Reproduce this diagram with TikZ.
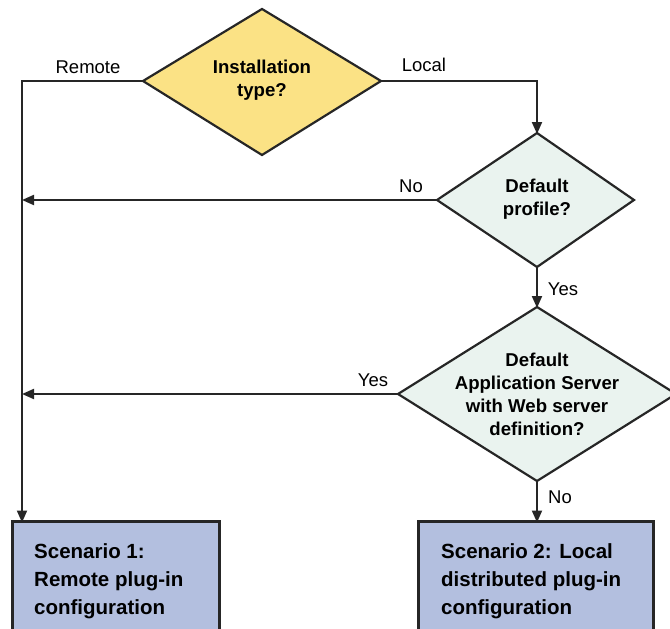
\documentclass[tikz,border=0pt]{standalone}
\usepackage{fontspec}
\setmainfont{Liberation Sans}
\usetikzlibrary{shapes.geometric,arrows.meta}
\definecolor{dyellow}{HTML}{FBE285}
\definecolor{dgreen}{HTML}{EAF3EF}
\definecolor{bblue}{HTML}{B3BFDF}
\definecolor{edge}{HTML}{262626}
\begin{document}
\begin{tikzpicture}[x=1pt,y=-1pt,
  decision/.style={draw=edge,line width=2.2pt,line join=miter},
  sbox/.style={draw=edge,line width=3pt,fill=bblue},
  conn/.style={draw=edge,line width=2pt},
  arr/.style={conn,-{Triangle[length=12pt,width=10pt]}},
  lbl/.style={font=\fontsize{18.5}{21}\selectfont,inner sep=0pt},
  dtext/.style={font=\fontsize{18.6}{23}\bfseries\selectfont,align=center,inner sep=0pt},
  btext/.style={font=\fontsize{20.5}{28}\bfseries\selectfont,align=left,inner sep=0pt,anchor=north west}]
\useasboundingbox (0,0) rectangle (670,629);
\clip (0,0) rectangle (670,629);
% diamonds
\coordinate (d1t) at (262,9);
\coordinate (d1r) at (381,81);
\coordinate (d1b) at (262,155);
\coordinate (d1l) at (143,81);
\filldraw[decision,fill=dyellow] (d1t) -- (d1r) -- (d1b) -- (d1l) -- cycle;
\node[dtext] (t1) at (262,80) {Installation\\type?};

\coordinate (d2t) at (537,133);
\coordinate (d2r) at (634,200);
\coordinate (d2b) at (537,267);
\coordinate (d2l) at (437,200);
\filldraw[decision,fill=dgreen] (d2t) -- (d2r) -- (d2b) -- (d2l) -- cycle;
\node[dtext] (t2) at (537,199) {Default\\profile?};

\coordinate (d3t) at (537,307);
\coordinate (d3r) at (676,394);
\coordinate (d3b) at (537,481);
\coordinate (d3l) at (398,394);
\filldraw[decision,fill=dgreen] (d3t) -- (d3r) -- (d3b) -- (d3l) -- cycle;
\node[dtext] (t3) at (537,394) {Default\\Application Server\\with Web server\\definition?};

% boxes
\draw[sbox] (12,521) rectangle (219,640);
\draw[sbox] (418,521) rectangle (653,640);
\coordinate (b1t) at (22,521);
\coordinate (b2t) at (537,521);
\node[btext] (s1) at (34,543) {Scenario 1:\\Remote plug-in\\configuration};
\node[btext] (s2) at (441,543) {Scenario 2: Local\\distributed plug-in\\configuration};

% connectors
\coordinate (lft1) at (22,81);
\coordinate (lft2) at (22,200);
\coordinate (lft3) at (22,394);
\coordinate (rgt1) at (537,81);
\draw[arr] (d1l) -- (lft1) -- ([yshift=-1.5pt]b1t);
\draw[arr] (d1r) -- (rgt1) -- ([yshift=-1pt]d2t);
\draw[arr] (d2l) -- (lft2);
\draw[arr] (d2b) -- ([yshift=-1pt]d3t);
\draw[arr] (d3l) -- (lft3);
\draw[arr] (d3b) -- ([yshift=-1.5pt]b2t);

% labels
\node[lbl] (lr) at (88,67) {Remote};
\node[lbl] (ll) at (424,65) {Local};
\node[lbl] (ln1) at (411,186) {No};
\node[lbl] (ly1) at (563,289) {Yes};
\node[lbl] (ly2) at (373,380) {Yes};
\node[lbl] (ln2) at (560,497) {No};
\end{tikzpicture}
\end{document}
